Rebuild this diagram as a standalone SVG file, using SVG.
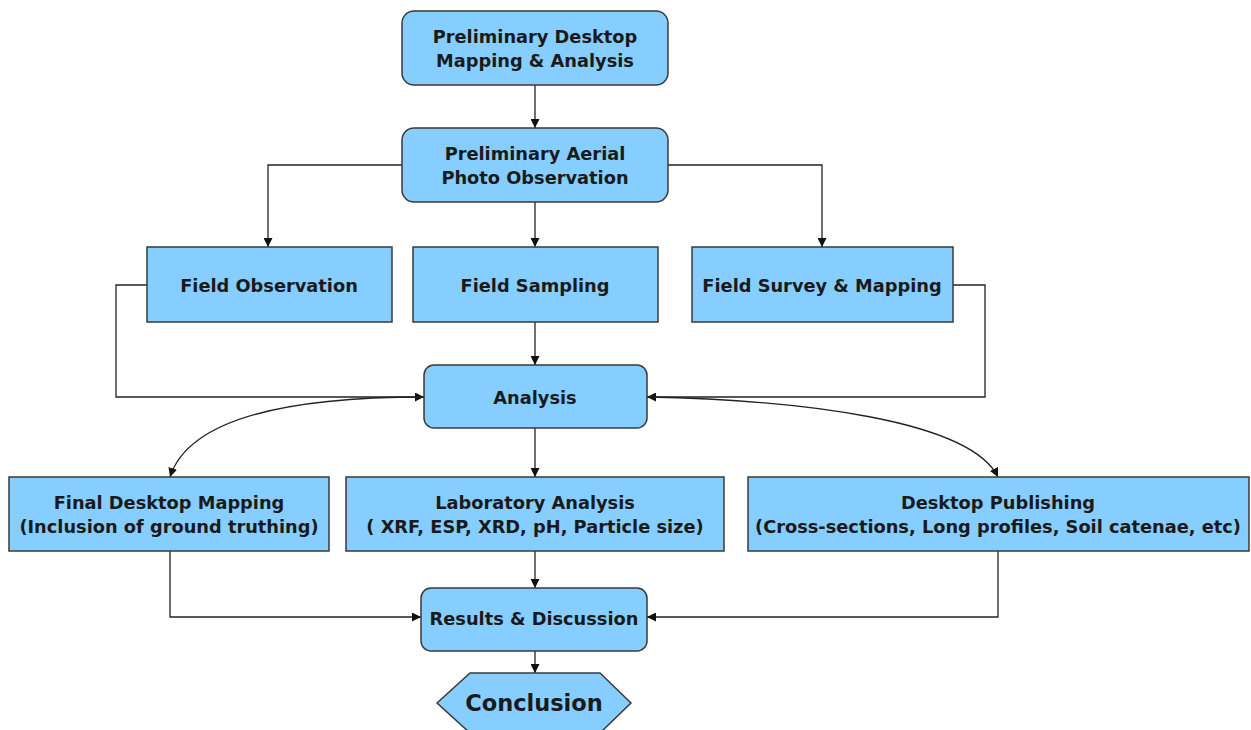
<svg xmlns="http://www.w3.org/2000/svg" width="1251" height="730" viewBox="0 0 1251 730">
<defs>
<marker id="ah" viewBox="0 0 10 10" refX="10" refY="5" markerWidth="9" markerHeight="9" markerUnits="userSpaceOnUse" orient="auto">
<path d="M0,0 L10,5 L0,10 z" fill="#111"/>
</marker>
</defs>
<style>
.n{fill:#85CEFF;stroke:#3a3a3a;stroke-width:1.5}
.t{font-family:"DejaVu Sans",Verdana,sans-serif;font-weight:bold;font-size:17.8px;fill:#1a1a1a;text-anchor:middle;dominant-baseline:central}
.c{fill:none;stroke:#222;stroke-width:1.3;marker-end:url(#ah)}
</style>
<rect width="1251" height="730" fill="#fff"/>
<g id="connectors">
<path class="c" d="M535,85 V128"/>
<path class="c" d="M402,165 H268 V247"/>
<path class="c" d="M535,202 V247"/>
<path class="c" d="M668,165 H822 V247"/>
<path class="c" d="M147,285 H116 V397 H424"/>
<path class="c" d="M535,322 V365"/>
<path class="c" d="M953,285 H985 V397 H647"/>
<path class="c" d="M424,397 C300,397 190,415 170,477"/>
<path class="c" d="M647,397 C800,400 970,420 998,477"/>
<path class="c" d="M535,428 V477"/>
<path class="c" d="M170,551 V617 H421"/>
<path class="c" d="M535,551 V588"/>
<path class="c" d="M998,551 V617 H647"/>
<path class="c" d="M535,651 V673"/>
</g>
<g id="n1"><rect class="n" x="402" y="11" width="266" height="74" rx="12"/><text class="t" x="535" y="36">Preliminary Desktop</text><text class="t" x="535" y="60">Mapping &amp; Analysis</text></g>
<g id="n2"><rect class="n" x="402" y="128" width="266" height="74" rx="12"/><text class="t" x="535" y="153">Preliminary Aerial</text><text class="t" x="535" y="177">Photo Observation</text></g>
<g id="n3"><rect class="n" x="147" y="247" width="245" height="75"/><text class="t" x="269" y="285">Field Observation</text></g>
<g id="n4"><rect class="n" x="413" y="247" width="245" height="75"/><text class="t" x="535" y="285">Field Sampling</text></g>
<g id="n5"><rect class="n" x="692" y="247" width="261" height="75"/><text class="t" x="822" y="285">Field Survey &amp; Mapping</text></g>
<g id="n6"><rect class="n" x="424" y="365" width="223" height="63" rx="10"/><text class="t" x="535" y="397">Analysis</text></g>
<g id="n7"><rect class="n" x="9" y="477" width="320" height="74"/><text class="t" x="169" y="502">Final Desktop Mapping</text><text class="t" x="169" y="526">(Inclusion of ground truthing)</text></g>
<g id="n8"><rect class="n" x="346" y="477" width="378" height="74"/><text class="t" x="535" y="502">Laboratory Analysis</text><text class="t" x="535" y="526">( XRF, ESP, XRD, pH, Particle size)</text></g>
<g id="n9"><rect class="n" x="748" y="477" width="501" height="74"/><text class="t" x="998" y="502">Desktop Publishing</text><text class="t" x="998" y="526">(Cross-sections, Long profiles,  Soil catenae, etc)</text></g>
<g id="n10"><rect class="n" x="421" y="588" width="226" height="63" rx="10"/><text class="t" x="534" y="618">Results &amp; Discussion</text></g>
<g id="n11"><polygon class="n" points="437,703 470,673 600,673 631,703 600,733 470,733"/><text class="t" x="534" y="703" style="font-size:22.5px">Conclusion</text></g>
</svg>
